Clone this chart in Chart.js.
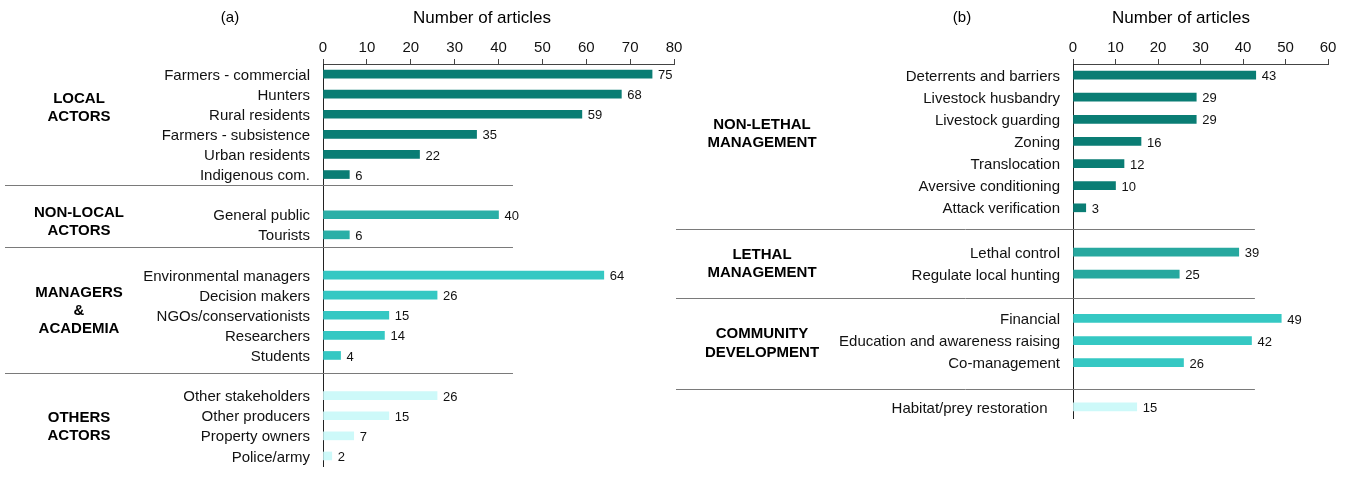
<!DOCTYPE html>
<html><head><meta charset="utf-8">
<script src="https://cdn.jsdelivr.net/npm/chart.js@4.4.0/dist/chart.umd.min.js"></script>
<style>
html,body{margin:0;padding:0;background:#fff;width:1347px;height:488px;overflow:hidden}
#ca{position:absolute;left:0;top:0}
#cb{position:absolute;left:670px;top:0}
</style></head><body>
<canvas id="ca" width="700" height="488" style="width:700px;height:488px"></canvas>
<canvas id="cb" width="677" height="488" style="width:677px;height:488px"></canvas>
<script>
// ---------- Panel (a) data ----------
const localActors = ['Farmers - commercial','Hunters','Rural residents','Farmers - subsistence','Urban residents','Indigenous com.'];
const localValues = [75,68,59,35,22,6];
const nonLocalActors = ['General public','Tourists'];
const nonLocalValues = [40,6];
const managersAcademia = ['Environmental managers','Decision makers','NGOs/conservationists','Researchers','Students'];
const managersValues = [64,26,15,14,4];
const othersActors = ['Other stakeholders','Other producers','Property owners','Police/army'];
const othersValues = [26,15,7,2];
const groupNamesA = [['LOCAL','ACTORS'],['NON-LOCAL','ACTORS'],['MANAGERS','&','ACADEMIA'],['OTHERS','ACTORS']];
const ticksA = [0,10,20,30,40,50,60,70,80];

// ---------- Panel (b) data ----------
const nonLethal = ['Deterrents and barriers','Livestock husbandry','Livestock guarding','Zoning','Translocation','Aversive conditioning','Attack verification'];
const nonLethalValues = [43,29,29,16,12,10,3];
const lethal = ['Lethal control','Regulate local hunting'];
const lethalValues = [39,25];
const community = ['Financial','Education and awareness raising','Co-management'];
const communityValues = [49,42,26];
const habitat = ['Habitat/prey restoration   '];
const habitatValues = [15];
const groupNamesB = [['NON-LETHAL','MANAGEMENT'],['LETHAL','MANAGEMENT'],['COMMUNITY','DEVELOPMENT'],[]];
const ticksB = [0,10,20,30,40,50,60];

const FONT = "'Liberation Sans', Arial, Helvetica, sans-serif";
Chart.defaults.font.family = FONT;
Chart.defaults.color = '#111';

function buildPanel(canvasId, groups, cfg) {
  const labels = [], data = [], colors = [];
  groups.forEach((g, gi) => {
    if (gi > 0) { labels.push(''); data.push(null); colors.push('rgba(0,0,0,0)'); }
    g.labels.forEach((l, i) => { labels.push(l); data.push(g.values[i]); colors.push(g.color); });
  });

  const decor = {
    id: 'decor' + canvasId,
    afterDatasetsDraw(chart) {
      const ctx = chart.ctx;
      const meta = chart.getDatasetMeta(0);
      ctx.save();
      ctx.font = '13px ' + FONT;
      ctx.fillStyle = '#111';
      ctx.textAlign = 'left';
      ctx.textBaseline = 'middle';
      meta.data.forEach((bar, i) => {
        if (data[i] == null) return;
        ctx.fillText(String(data[i]), bar.x + 6, bar.y + 1.5);
      });
      ctx.restore();
    },
    afterDraw(chart) {
      const ctx = chart.ctx;
      const xs = chart.scales.x, ys = chart.scales.y;
      ctx.save();
      // separators
      ctx.strokeStyle = '#7a7a7a';
      ctx.lineWidth = 1;
      cfg.separators.forEach(p => {
        const y = Math.round(ys.getPixelForValue(p)) + 0.5;
        ctx.beginPath();
        ctx.moveTo(cfg.sepStart, y);
        ctx.lineTo(xs.getPixelForValue(cfg.sepEnd), y);
        ctx.stroke();
      });
      // group labels
      ctx.fillStyle = '#000';
      ctx.font = 'bold 15px ' + FONT;
      ctx.textAlign = 'center';
      ctx.textBaseline = 'middle';
      cfg.groupNames.forEach((lines, gi) => {
        if (!lines.length) return;
        const cy = ys.getPixelForValue(cfg.groupPos[gi]) + 1.5;
        const y0 = cy - (lines.length - 1) * cfg.lineH / 2;
        lines.forEach((t, li) => ctx.fillText(t, cfg.groupX, y0 + li * cfg.lineH));
      });
      // titles
      ctx.font = '17px ' + FONT;
      ctx.fillText('Number of articles', cfg.titleX, 18);
      ctx.font = '15px ' + FONT;
      ctx.fillText(cfg.letter, cfg.letterX, 18);
      ctx.restore();
    }
  };

  return new Chart(document.getElementById(canvasId), {
    type: 'bar',
    data: { labels, datasets: [{ data, backgroundColor: colors, barThickness: 8, borderWidth: 0 }] },
    options: {
      indexAxis: 'y',
      responsive: false,
      animation: false,
      layout: { padding: { top: 0, left: 0, right: cfg.padRight, bottom: cfg.padBottom } },
      plugins: { legend: { display: false }, tooltip: { enabled: false } },
      scales: {
        x: {
          type: 'linear', position: 'top', min: 0, max: cfg.ticks[cfg.ticks.length - 1],
          afterBuildTicks: s => { s.ticks = cfg.ticks.map(v => ({ value: v })); },
          afterFit: s => { s.height = 64; },
          ticks: { font: { size: 15 }, color: '#111', padding: 2 },
          grid: { drawOnChartArea: false, drawTicks: true, tickLength: 5, color: '#444', tickColor: '#444' },
          border: { display: true, color: '#444', width: 1 }
        },
        y: {
          type: 'category',
          afterFit: s => { s.width = cfg.axisX; },
          ticks: { font: { size: 15 }, color: '#111', padding: 13, autoSkip: false, labelOffset: 1.5 },
          grid: { display: true, drawOnChartArea: false, drawTicks: false },
          border: { display: true, color: '#222', width: 1 }
        }
      }
    },
    plugins: [decor]
  });
}

buildPanel('ca', [
  { labels: localActors, values: localValues, color: '#0a7d74' },
  { labels: nonLocalActors, values: nonLocalValues, color: '#2aafa7' },
  { labels: managersAcademia, values: managersValues, color: '#35c8c3' },
  { labels: othersActors, values: othersValues, color: '#cdf9f9' }
], {
  ticks: ticksA, axisX: 323, padRight: 26, padBottom: 20,
  separators: [5.54, 8.62, 14.88], sepStart: 5, sepEnd: 43.3,
  groupNames: groupNamesA, groupPos: [1.63, 7.28, 11.7, 17.5], groupX: 79, lineH: 18,
  titleX: 482, letter: '(a)', letterX: 230
});

buildPanel('cb', [
  { labels: nonLethal, values: nonLethalValues, color: '#0a7d74' },
  { labels: lethal, values: lethalValues, color: '#27a89f' },
  { labels: community, values: communityValues, color: '#35c8c3' },
  { labels: habitat, values: habitatValues, color: '#cdf9f9' }
], {
  ticks: ticksB, axisX: 403, padRight: 19, padBottom: 70,
  separators: [6.97, 10.08, 14.2], sepStart: 6, sepEnd: 42.8,
  groupNames: groupNamesB, groupPos: [2.6, 8.47, 12.06, 0], groupX: 92, lineH: 18.5,
  titleX: 511, letter: '(b)', letterX: 292
});
</script>
</body></html>
